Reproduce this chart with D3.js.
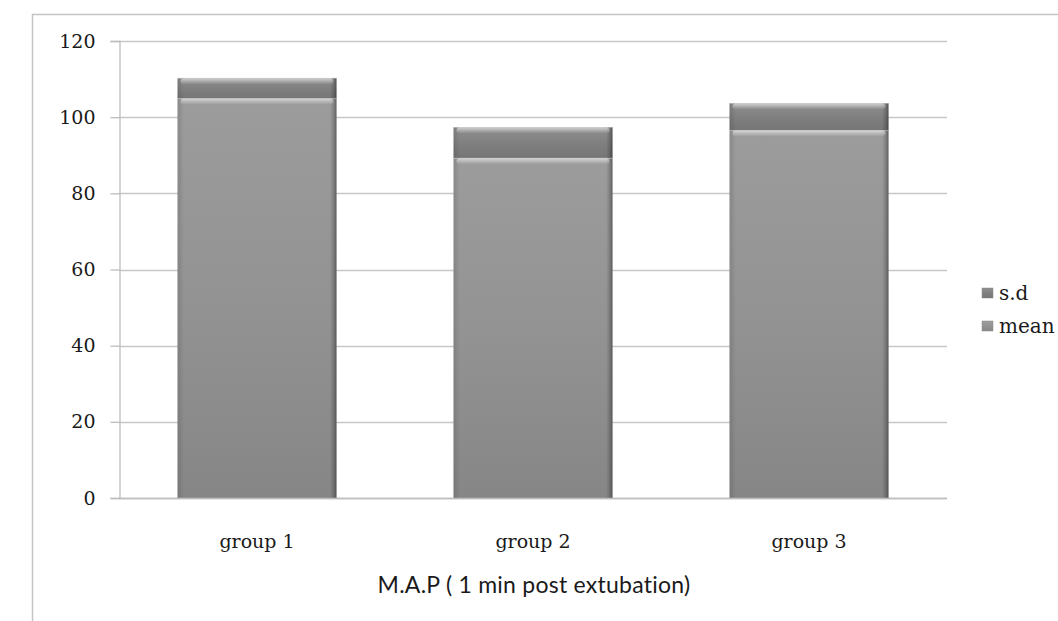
<!DOCTYPE html>
<html>
<head>
<meta charset="utf-8">
<script src="https://cdn.jsdelivr.net/npm/d3@7"></script>
<style>
  html, body { margin: 0; padding: 0; background: #fff; }
  svg { display: block; }
  text { font-family: "DejaVu Serif", serif; fill: #1a1a1a; }
</style>
</head>
<body>
<svg id="chart" width="1058" height="621"></svg>
<script>
// Mean arterial pressure, 1 min post extubation
const categories = ["group 1", "group 2", "group 3"];
const meanValues = [105, 89.3, 96.6];
const sdValues = [5.3, 8.1, 7.1];
const seriesNames = ["mean", "s.d"];
const yTicks = [0, 20, 40, 60, 80, 100, 120];
const xTitle = "M.A.P ( 1 min post extubation)";

const svg = d3.select("#chart");
const W = 1058, H = 621;
const plot = { left: 119, right: 947, top: 41, bottom: 498 };

// Outer chart frame
svg.append("rect")
  .attr("x", 32.5).attr("y", 14.5)
  .attr("width", W + 10).attr("height", H + 10)
  .attr("fill", "#fff").attr("stroke", "#c4c4c4").attr("stroke-width", 1.5);

const y = d3.scaleLinear().domain([0, 120]).range([plot.bottom, plot.top]);
const x = d3.scaleBand().domain(categories)
  .range([plot.left, plot.right]).paddingInner(0.424).paddingOuter(0.212);

// Gradients for the bevelled bar segments
const defs = svg.append("defs");
function vGrad(id, stops) {
  const g = defs.append("linearGradient").attr("id", id)
    .attr("x1", 0).attr("y1", 0).attr("x2", 0).attr("y2", 1);
  stops.forEach(s => g.append("stop").attr("offset", s[0]).attr("stop-color", s[1]));
}
function hGrad(id, stops) {
  const g = defs.append("linearGradient").attr("id", id)
    .attr("x1", 0).attr("y1", 0).attr("x2", 1).attr("y2", 0);
  stops.forEach(s => g.append("stop").attr("offset", s[0]).attr("stop-color", s[1]));
}
vGrad("meanFill", [[0, "#9c9c9c"], [0.5, "#939393"], [1, "#868686"]]);
vGrad("sdFill", [[0, "#8e8e8e"], [0.6, "#7e7e7e"], [1, "#767676"]]);
hGrad("sideShade", [[0, "rgba(0,0,0,0.12)"], [0.04, "rgba(0,0,0,0)"], [0.96, "rgba(0,0,0,0)"], [0.985, "rgba(0,0,0,0.2)"], [1, "rgba(0,0,0,0.4)"]]);
vGrad("topShine", [[0, "rgba(255,255,255,0.55)"], [1, "rgba(255,255,255,0)"]]);

// Gridlines
const grid = svg.append("g");
grid.selectAll("line").data(yTicks).join("line")
  .attr("x1", plot.left).attr("x2", plot.right)
  .attr("y1", d => Math.round(y(d)) + 0.5).attr("y2", d => Math.round(y(d)) + 0.5)
  .attr("stroke", "#c8c8c8").attr("stroke-width", 1.3);

// Stacked bars: mean at the base, s.d on top
const stackData = categories.map((c, i) => ({ cat: c, mean: meanValues[i], sd: sdValues[i] }));
const stacked = d3.stack().keys(["mean", "sd"])(stackData);
const fills = { mean: "url(#meanFill)", sd: "url(#sdFill)" };

stacked.forEach(layer => {
  const g = svg.append("g");
  layer.forEach(seg => {
    const x0 = x(seg.data.cat), w = x.bandwidth();
    const yTop = y(seg[1]), yBot = y(seg[0]);
    const h = yBot - yTop;
    g.append("rect").attr("x", x0).attr("y", yTop).attr("width", w).attr("height", h)
      .attr("fill", fills[layer.key]);
    g.append("rect").attr("x", x0).attr("y", yTop).attr("width", w).attr("height", h)
      .attr("fill", "url(#sideShade)");
    // light bevel at the top edge of each segment
    g.append("rect").attr("x", x0 + 3).attr("y", yTop + 0.5).attr("width", w - 6).attr("height", Math.min(6, h / 2))
      .attr("rx", 3).attr("fill", "url(#topShine)");
    g.append("line").attr("x1", x0).attr("x2", x0 + w)
      .attr("y1", yTop + 0.5).attr("y2", yTop + 0.5)
      .attr("stroke", "rgba(255,255,255,0.35)");
  });
});

// Y axis
const yAxis = d3.axisLeft(y).tickValues(yTicks).tickSize(9).tickPadding(15).tickFormat(d3.format("d"));
const ya = svg.append("g").attr("transform", `translate(${plot.left + 0.5},0)`).call(yAxis);
ya.select(".domain").attr("stroke", "#bdbdbd").attr("stroke-width", 1.3);
ya.selectAll(".tick line").attr("stroke", "#bdbdbd").attr("stroke-width", 1.3);
ya.selectAll(".tick text").attr("font-size", 19).attr("fill", "#1a1a1a")
  .style("font-family", "\"DejaVu Serif\", serif");

// X axis
const xAxis = d3.axisBottom(x).tickSize(0).tickPadding(37);
const xa = svg.append("g").attr("transform", `translate(0,${plot.bottom})`).call(xAxis);
xa.select(".domain").remove();
xa.selectAll(".tick text").attr("font-size", 19).attr("fill", "#1a1a1a")
  .style("font-family", "\"DejaVu Serif\", serif");
svg.append("line").attr("x1", plot.left).attr("x2", plot.right)
  .attr("y1", plot.bottom + 0.5).attr("y2", plot.bottom + 0.5)
  .attr("stroke", "#bdbdbd").attr("stroke-width", 1.3);

// X axis title
svg.append("text").attr("x", 534).attr("y", 593)
  .attr("text-anchor", "middle").attr("font-size", 23)
  .style("font-family", "Lato, sans-serif").style("letter-spacing", "0.25px")
  .text(xTitle);

// Legend (s.d listed first, as stacked top to bottom)
const legendItems = [
  { name: seriesNames[1], fill: "url(#sdFill)" },
  { name: seriesNames[0], fill: "url(#meanFill)" }
];
const lg = svg.append("g").attr("transform", "translate(982,288)");
legendItems.forEach((d, i) => {
  const row = lg.append("g").attr("transform", `translate(0,${i * 33})`);
  row.append("rect").attr("width", 11).attr("height", 10).attr("fill", d.fill)
    .attr("stroke", "#8a8a8a").attr("stroke-width", 0.5);
  row.append("text").attr("x", 17).attr("y", 12).attr("font-size", 20).text(d.name);
});
</script>
</body>
</html>
